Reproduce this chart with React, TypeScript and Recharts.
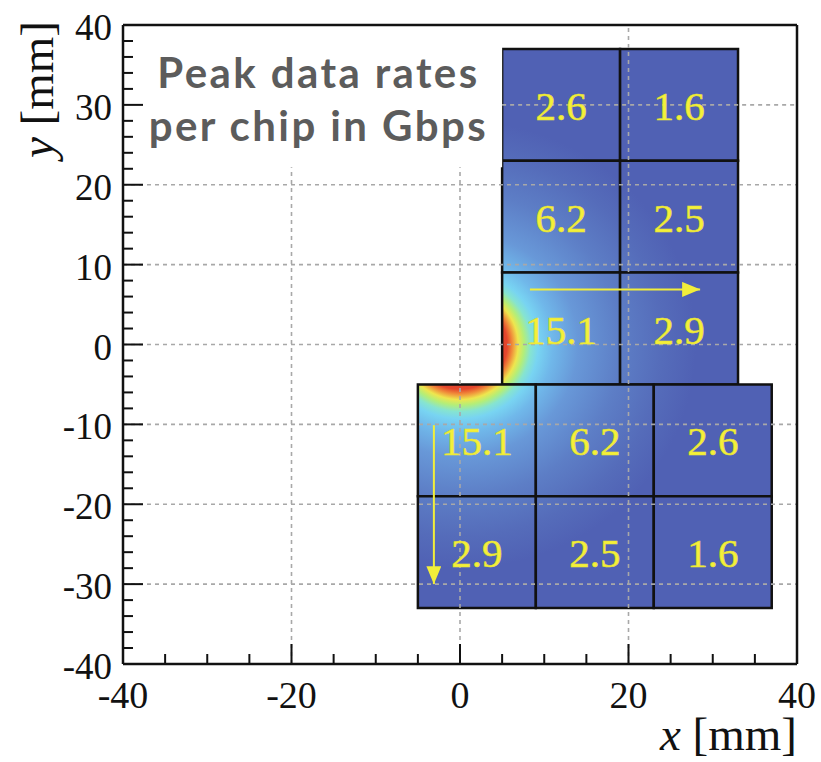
import React from 'react';
import {
  ScatterChart, Scatter, XAxis, YAxis, ReferenceArea, ReferenceLine,
} from 'recharts';

// chip edges in mm and the peak rate (Gbps) of each chip
const upperCols = [5, 19, 33];
const upperRows = [37, 23, 9, -5];
const upperRates = [[2.6, 1.6], [6.2, 2.5], [15.1, 2.9]];
const lowerCols = [-5, 9, 23, 37];
const lowerRows = [-5, -19, -33];
const lowerRates = [[15.1, 6.2, 2.6], [2.9, 2.5, 1.6]];

const xTicks = [-40, -35, -30, -25, -20, -15, -10, -5, 0, 5, 10, 15, 20, 25, 30, 35, 40];
const yTicks = [
  -40, -38, -36, -34, -32, -30, -28, -26, -24, -22, -20, -18, -16, -14, -12, -10, -8, -6, -4, -2,
  0, 2, 4, 6, 8, 10, 12, 14, 16, 18, 20, 22, 24, 26, 28, 30, 32, 34, 36, 38, 40,
];

// arrows showing readout direction
const arrowRight = [{ x: 8.3, y: 6.9 }, { x: 28.5, y: 6.9 }];
const arrowDown = [{ x: -3.1, y: -10.1 }, { x: -3.1, y: -30.0 }];

// text box in the upper left
const boxX = [-38.6, 5];
const boxY = [22.2, 39.6];
const boxLines = ['Peak data rates', 'per chip in Gbps'];

// heat map colour stops, distance from beam (mm)
const heatR = 28;
const heatStops: [number, string][] = [
  [0, '#c81e1e'], [5.6, '#e4462c'], [6.2, '#f08c3a'], [6.9, '#eee64e'], [7.6, '#b4ee78'],
  [8.4, '#86e4d0'], [9.3, '#78d4f2'], [11, '#70b8ea'], [14, '#6898d8'], [19, '#5d7ec6'],
  [24, '#556cba'], [28, '#5061b4'],
];

type Chip = { x1: number; x2: number; y1: number; y2: number; rate: number };

function buildChips(cols: number[], rows: number[], rates: number[][]): Chip[] {
  const out: Chip[] = [];
  rates.forEach((row, r) => {
    row.forEach((rate, c) => {
      out.push({ x1: cols[c], x2: cols[c + 1], y1: rows[r + 1], y2: rows[r], rate });
    });
  });
  return out;
}

const chips = [
  ...buildChips(upperCols, upperRows, upperRates),
  ...buildChips(lowerCols, lowerRows, lowerRates),
];
const centers = chips.map(c => ({ x: (c.x1 + c.x2) / 2, y: (c.y1 + c.y2) / 2, rate: c.rate }));

const serif = { fontFamily: "'Liberation Serif', 'Times New Roman', Times, serif" };
const sans = { fontFamily: "Lato, 'Open Sans', sans-serif" };

const XTick = ({ x, y, payload }: any) => {
  const major = payload.value % 20 === 0;
  return (
    <g>
      <line x1={x} x2={x} y1={y} y2={y - (major ? 20 : 10)} stroke="#111" strokeWidth={2} />
      {major && (
        <text x={x} y={y + 44} textAnchor="middle" style={serif} fontSize={38} fill="#111">
          {payload.value}
        </text>
      )}
    </g>
  );
};

const YTick = ({ x, y, payload }: any) => {
  const major = payload.value % 10 === 0;
  return (
    <g>
      <line x1={x} x2={x + (major ? 20 : 10)} y1={y} y2={y} stroke="#111" strokeWidth={2} />
      {major && (
        <text x={x - 11} y={y + 15} textAnchor="end" style={serif} fontSize={37} fill="#111">
          {payload.value}
        </text>
      )}
    </g>
  );
};

const xTitle = ({ viewBox }: any) => (
  <text x={viewBox.x + viewBox.width} y={viewBox.y + 86} textAnchor="end" style={serif} fontSize={47} fill="#111">
    <tspan fontStyle="italic">x</tspan> [mm]
  </text>
);

const yTitle = ({ viewBox }: any) => {
  const tx = viewBox.x + 45;
  const ty = viewBox.y - 4;
  return (
    <text x={tx} y={ty} textAnchor="end" transform={`rotate(-90, ${tx}, ${ty})`} style={serif} fontSize={47} fill="#111">
      <tspan fontStyle="italic">y</tspan> [mm]
    </text>
  );
};

const boxText = ({ viewBox }: any) => (
  <g>
    {boxLines.map((t, i) => (
      <text key={i} x={viewBox.x + viewBox.width / 2} y={viewBox.y + 60 + i * 53} textAnchor="middle"
        style={sans} fontWeight={700} fontSize={42} letterSpacing={2.4} fill="#5c5c5c">
        {t}
      </text>
    ))}
  </g>
);

const RateLabel = ({ cx, cy, payload }: any) => (
  <text x={cx} y={cy + 15} textAnchor="middle" style={serif} fontSize={41} fill="#f4f03a"
    stroke="#e6e232" strokeWidth={0.6}>
    {payload.rate}
  </text>
);

const gridStyle = { stroke: '#a8a8a8', strokeWidth: 1.6, strokeDasharray: '4 4' };

export default function App() {
  return (
    <div style={{ position: 'absolute', left: 0, top: 0, background: '#fff' }}>
      <ScatterChart width={821} height={762} margin={{ top: 25, right: 24, left: 8, bottom: 8 }}>
        <defs>
          {chips.map((c, i) => {
            const w = c.x2 - c.x1;
            const h = c.y2 - c.y1;
            return (
              <radialGradient key={i} id={`heat${i}`} gradientUnits="objectBoundingBox"
                cx={(0 - c.x1) / w} cy={(c.y2 - 0) / h} r={heatR / w} fx={(0 - c.x1) / w} fy={(c.y2 - 0) / h}>
                {heatStops.map(([d, col], k) => (
                  <stop key={k} offset={d / heatR} stopColor={col} />
                ))}
              </radialGradient>
            );
          })}
          <marker id="arrowHead" markerUnits="userSpaceOnUse" markerWidth={18} markerHeight={15}
            refX={18} refY={7.5} orient="auto">
            <path d="M0,0 L18,7.5 L0,15 z" fill="#f2ee3a" />
          </marker>
        </defs>
        <XAxis type="number" dataKey="x" domain={[-40, 40]} ticks={xTicks} interval={0}
          allowDataOverflow height={90} tickSize={0} tickMargin={0} tick={<XTick />}
          axisLine={{ stroke: '#111', strokeWidth: 2.5 }} label={xTitle} />
        <YAxis type="number" dataKey="y" domain={[-40, 40]} ticks={yTicks} interval={0}
          allowDataOverflow width={115} tickSize={0} tickMargin={0} tick={<YTick />}
          axisLine={{ stroke: '#111', strokeWidth: 2.5 }} label={yTitle} />

        {chips.map((c, i) => (
          <ReferenceArea key={`c${i}`} x1={c.x1} x2={c.x2} y1={c.y1} y2={c.y2}
            fill={`url(#heat${i})`} fillOpacity={1} stroke="#111" strokeWidth={2.5} />
        ))}

        <ReferenceArea x1={boxX[0]} x2={boxX[1]} y1={boxY[0]} y2={boxY[1]} fill="#fff" fillOpacity={1}
          stroke="none" label={boxText} />

        {/* dotted grid, kept clear of the text box */}
        <ReferenceLine segment={[{ x: -20, y: -40 }, { x: -20, y: boxY[0] }]} {...gridStyle} />
        <ReferenceLine segment={[{ x: 0, y: -40 }, { x: 0, y: boxY[0] }]} {...gridStyle} />
        <ReferenceLine x={20} {...gridStyle} />
        {[-30, -20, -10, 0, 10, 20].map(v => (
          <ReferenceLine key={`h${v}`} y={v} {...gridStyle} />
        ))}
        <ReferenceLine segment={[{ x: boxX[1], y: 30 }, { x: 40, y: 30 }]} {...gridStyle} />

        <ReferenceLine y={40} stroke="#111" strokeWidth={2.5} />
        <ReferenceLine x={40} stroke="#111" strokeWidth={2.5} />

        <ReferenceLine segment={arrowRight} stroke="#f2ee3a" strokeWidth={2} markerEnd="url(#arrowHead)" />
        <ReferenceLine segment={arrowDown} stroke="#f2ee3a" strokeWidth={2} markerEnd="url(#arrowHead)" />

        <Scatter data={centers} shape={<RateLabel />} isAnimationActive={false} />
      </ScatterChart>
    </div>
  );
}
